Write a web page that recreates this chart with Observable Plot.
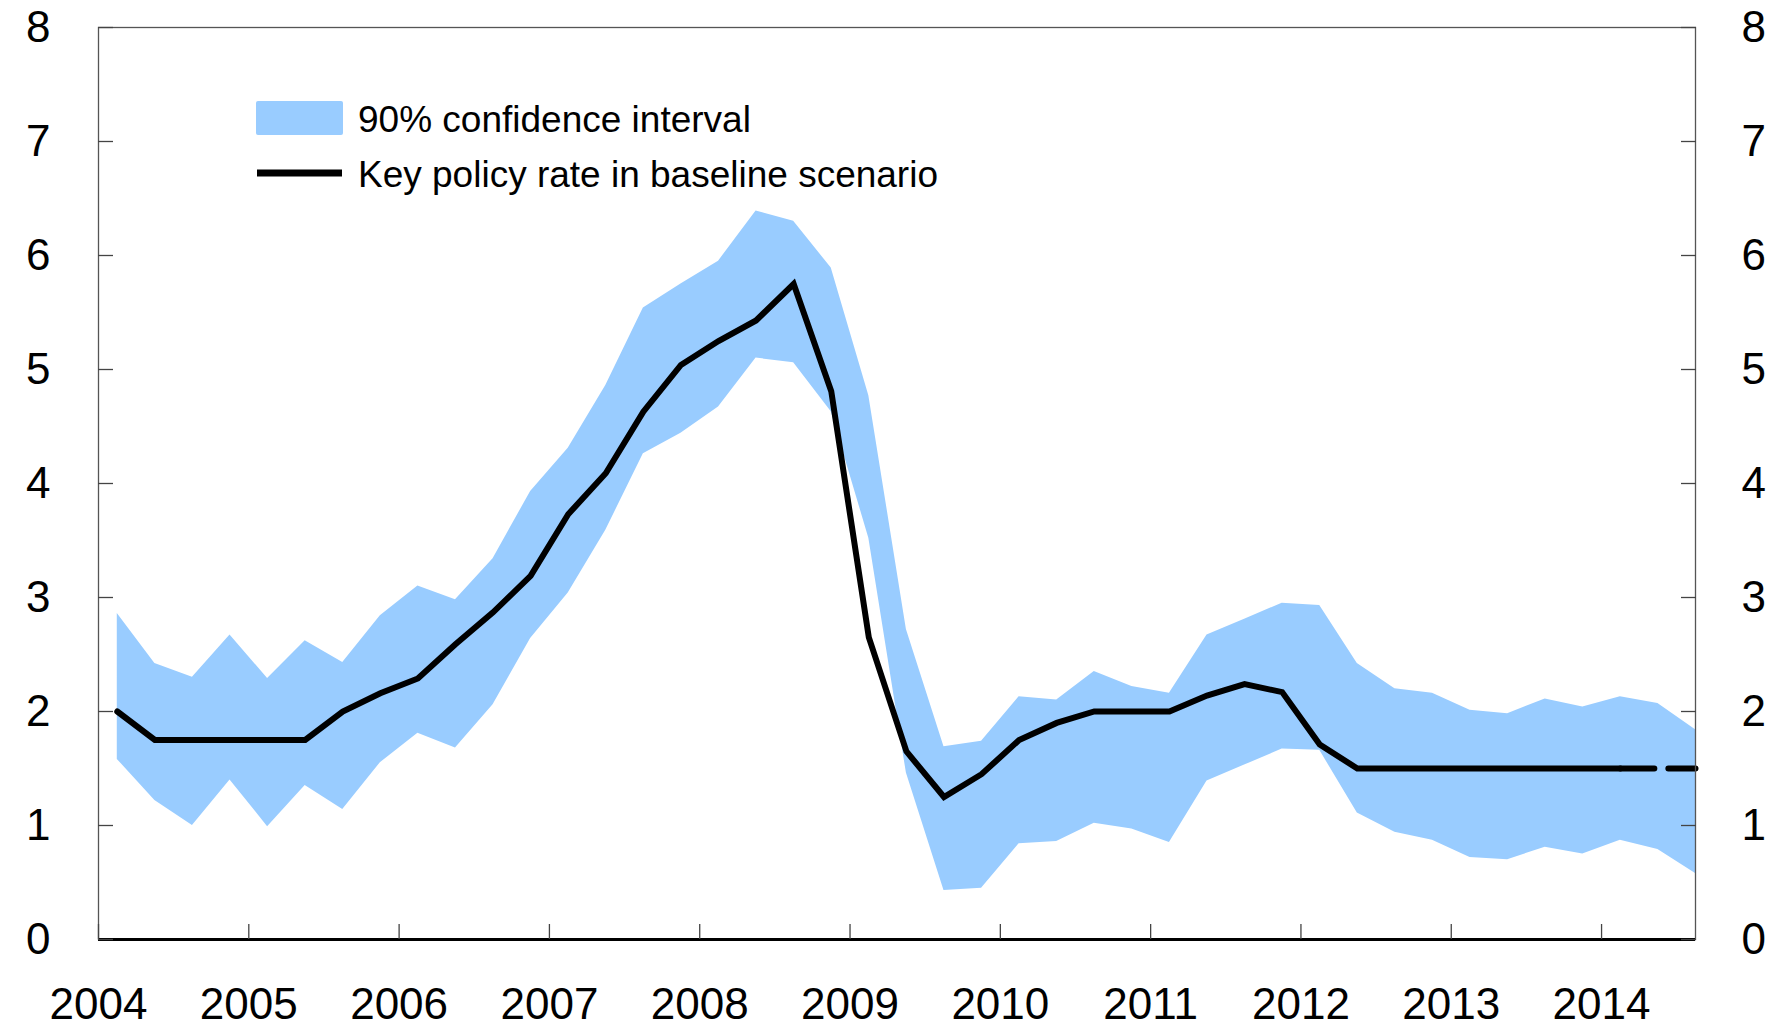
<!DOCTYPE html>
<html>
<head>
<meta charset="utf-8">
<script src="https://cdn.jsdelivr.net/npm/d3@7"></script>
<script src="https://cdn.jsdelivr.net/npm/@observablehq/plot@0.6"></script>
<style>
  body { margin: 0; background: #fff; }
  #wrap { position: relative; width: 1774px; height: 1025px; font-family: "Liberation Sans", Arial, Helvetica, sans-serif; }
  #wrap > svg { position: absolute; left: 0; top: 0; }
</style>
</head>
<body>
<div id="wrap"></div>
<script>
// Quarterly observations, 2004 Q1 – 2014 Q3
const quarters = [
  "2004Q1","2004Q2","2004Q3","2004Q4",
  "2005Q1","2005Q2","2005Q3","2005Q4",
  "2006Q1","2006Q2","2006Q3","2006Q4",
  "2007Q1","2007Q2","2007Q3","2007Q4",
  "2008Q1","2008Q2","2008Q3","2008Q4",
  "2009Q1","2009Q2","2009Q3","2009Q4",
  "2010Q1","2010Q2","2010Q3","2010Q4",
  "2011Q1","2011Q2","2011Q3","2011Q4",
  "2012Q1","2012Q2","2012Q3","2012Q4",
  "2013Q1","2013Q2","2013Q3","2013Q4",
  "2014Q1","2014Q2","2014Q3"
];
// 90% confidence interval, upper bound
const upper = [2.86,2.42,2.30,2.67,2.29,2.62,2.43,2.84,3.10,2.98,3.34,3.93,4.31,4.86,5.54,5.75,5.95,6.39,6.30,5.89,4.77,2.72,1.69,1.74,2.13,2.10,2.35,2.22,2.16,2.67,2.81,2.95,2.93,2.42,2.20,2.16,2.01,1.98,2.11,2.04,2.13,2.07,1.84];
// 90% confidence interval, lower bound
const lower = [1.58,1.22,1.00,1.40,0.99,1.35,1.14,1.55,1.81,1.68,2.06,2.64,3.04,3.59,4.26,4.44,4.67,5.10,5.06,4.63,3.52,1.46,0.43,0.45,0.84,0.86,1.02,0.97,0.85,1.39,1.53,1.67,1.66,1.11,0.94,0.87,0.72,0.70,0.81,0.75,0.87,0.79,0.58];
// Key policy rate in baseline scenario
const rate = [2.00,1.75,1.75,1.75,1.75,1.75,2.00,2.16,2.29,2.59,2.87,3.19,3.73,4.09,4.63,5.04,5.25,5.43,5.75,4.81,2.65,1.65,1.25,1.45,1.75,1.90,2.00,2.00,2.00,2.14,2.24,2.17,1.71,1.50,1.50,1.50,1.50,1.50,1.50,1.50,1.50,1.50,1.50];
// First quarter drawn dashed
const dashedFrom = "2014Q1";

const yearTicks = [2004,2005,2006,2007,2008,2009,2010,2011,2012,2013,2014];
const yTicks = [0,1,2,3,4,5,6,7,8];
const legendLabels = ["90% confidence interval", "Key policy rate in baseline scenario"];

const bandColor = "#99CCFF";

// quarter label -> decimal year at mid-quarter
const toYear = q => +q.slice(0,4) + (+q.slice(5) - 1) / 4 + 0.125;

const data = quarters.map((q, i) => ({t: toYear(q), lower: lower[i], upper: upper[i], rate: rate[i]}));
const cut = quarters.indexOf(dashedFrom);
const solid = data.slice(0, cut + 1);
const dashed = data.slice(cut);

const font = '"Liberation Sans", Arial, Helvetica, sans-serif';
const noText = () => "";

const chart = Plot.plot({
  width: 1774,
  height: 1025,
  marginLeft: 98,
  marginRight: 79,
  marginTop: 27,
  marginBottom: 86,
  style: {fontFamily: font, fontSize: "44px", color: "black", background: "white", overflow: "visible"},
  x: {domain: [2004, 2014.625]},
  y: {domain: [0, 8]},
  marks: [
    Plot.areaY(data, {x: "t", y1: "lower", y2: "upper", fill: bandColor}),
    Plot.lineY(solid, {x: "t", y: "rate", stroke: "black", strokeWidth: 6, strokeLinejoin: "miter", strokeMiterlimit: 3}),
    Plot.lineY(dashed, {x: "t", y: "rate", stroke: "black", strokeWidth: 6, strokeDasharray: "34,14"}),
    Plot.frame({stroke: "#555", strokeWidth: 1.3}),
    Plot.ruleY([0], {stroke: "black", strokeWidth: 3}),
    // labels
    Plot.axisY(yTicks, {anchor: "left", tickSize: 0, tickPadding: 48, label: null, tickFormat: d => String(d)}),
    Plot.axisY(yTicks, {anchor: "right", tickSize: 0, tickPadding: 46, label: null, tickFormat: d => String(d)}),
    Plot.axisX(yearTicks, {anchor: "bottom", tickSize: 0, tickPadding: 48, label: null, tickFormat: d => String(d)}),
    // inward ticks
    Plot.axisY(yTicks, {anchor: "left", tickSize: 15, dx: 15, label: null, tickFormat: noText, stroke: "#444", strokeWidth: 1.3}),
    Plot.axisY(yTicks, {anchor: "right", tickSize: 15, dx: -15, label: null, tickFormat: noText, stroke: "#444", strokeWidth: 1.3}),
    Plot.axisX(yearTicks, {anchor: "bottom", tickSize: 15, dy: -15, label: null, tickFormat: noText, stroke: "#444", strokeWidth: 1.3})
  ]
});

const wrap = document.getElementById("wrap");
wrap.appendChild(chart);

// legend overlay inside the plot area
const leg = d3.select(wrap).append("svg")
  .attr("width", 1774).attr("height", 1025)
  .style("pointer-events", "none")
  .style("font-family", font);
leg.append("rect").attr("x", 256).attr("y", 101).attr("width", 87).attr("height", 34).attr("rx", 2).attr("fill", bandColor);
leg.append("line").attr("x1", 257).attr("x2", 342).attr("y1", 173).attr("y2", 173).attr("stroke", "black").attr("stroke-width", 7);
leg.selectAll("text.l").data(legendLabels).join("text")
  .attr("class", "l")
  .attr("x", 358)
  .attr("y", (d, i) => 132 + i * 55)
  .attr("font-size", 37)
  .attr("fill", "black")
  .text(d => d);
</script>
</body>
</html>
